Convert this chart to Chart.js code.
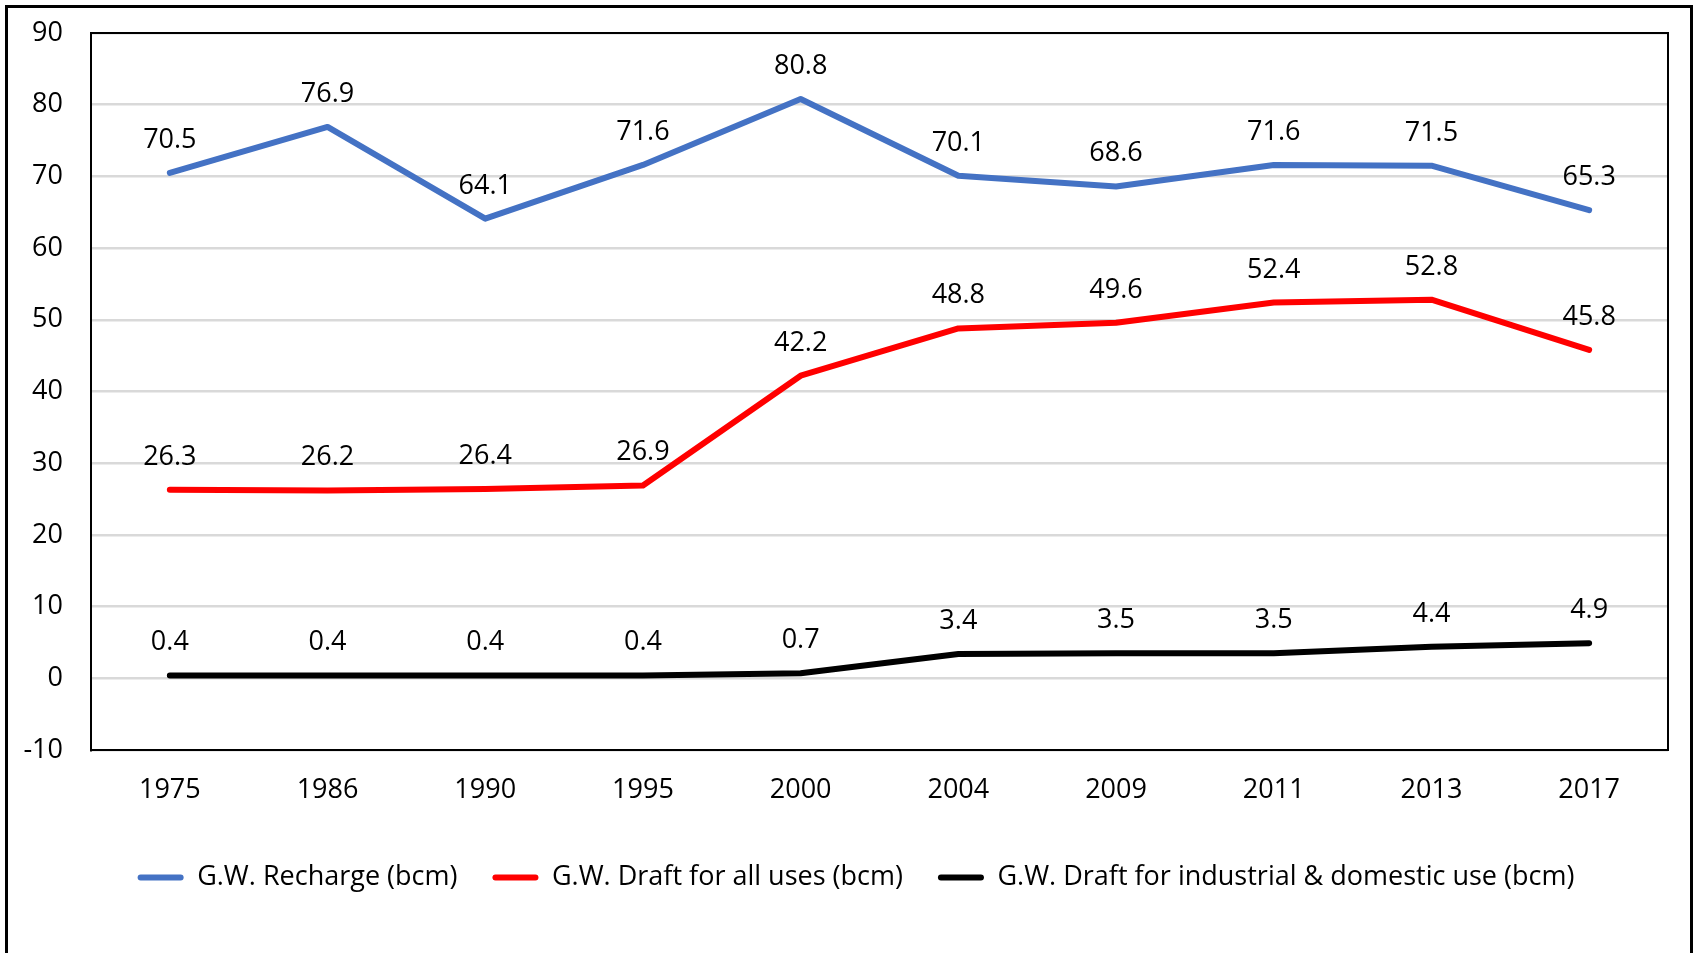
<!DOCTYPE html>
<html>
<head>
<meta charset="utf-8">
<script src="https://cdn.jsdelivr.net/npm/chart.js@4/dist/chart.umd.min.js"></script>
<style>
  html, body { margin: 0; padding: 0; background: #fff; overflow: hidden; width: 1699px; height: 953px; }
  #frame { position: absolute; left: 5px; top: 5px; width: 1682px; height: 1100px; border: 3px solid #000; }
  #c { position: absolute; left: 0; top: 0; }
</style>
</head>
<body>
<div id="frame"></div>
<canvas id="c" width="1699" height="953"></canvas>
<script>
const years = ['1975', '1986', '1990', '1995', '2000', '2004', '2009', '2011', '2013', '2017'];
const recharge = [70.5, 76.9, 64.1, 71.6, 80.8, 70.1, 68.6, 71.6, 71.5, 65.3];
const draftAll = [26.3, 26.2, 26.4, 26.9, 42.2, 48.8, 49.6, 52.4, 52.8, 45.8];
const draftIndDom = [0.4, 0.4, 0.4, 0.4, 0.7, 3.4, 3.5, 3.5, 4.4, 4.9];
const seriesNames = ['G.W. Recharge (bcm)', 'G.W. Draft for all uses (bcm)', 'G.W. Draft for industrial & domestic use (bcm)'];
const yMin = -10, yMax = 90, yStep = 10;

const FONT = '"Open Sans", "Noto Sans", sans-serif';
const FS = 27;

const dataLabels = {
  id: 'dataLabels',
  afterDatasetsDraw(chart) {
    const ctx = chart.ctx;
    ctx.save();
    ctx.font = FS + 'px ' + FONT;
    ctx.fillStyle = '#000';
    ctx.textAlign = 'center';
    ctx.textBaseline = 'alphabetic';
    chart.data.datasets.forEach((ds, i) => {
      const meta = chart.getDatasetMeta(i);
      meta.data.forEach((pt, j) => {
        ctx.fillText(ds.data[j].toFixed(1), pt.x, pt.y - 25);
      });
    });
    ctx.restore();
  }
};

const areaBorder = {
  id: 'areaBorder',
  afterDraw(chart) {
    const a = chart.chartArea;
    const ctx = chart.ctx;
    ctx.save();
    ctx.strokeStyle = '#000';
    ctx.lineWidth = 2;
    ctx.strokeRect(a.left, a.top, a.right - a.left, a.bottom - a.top);
    ctx.restore();
  }
};

function ds(label, data, color) {
  return {
    label, data,
    borderColor: color, backgroundColor: color,
    borderWidth: 6, pointRadius: 0, pointHoverRadius: 0,
    tension: 0, borderCapStyle: 'round', borderJoinStyle: 'round', fill: false
  };
}

new Chart(document.getElementById('c'), {
  type: 'line',
  data: {
    labels: years,
    datasets: [
      ds(seriesNames[0], recharge, '#4472C4'),
      ds(seriesNames[1], draftAll, '#FF0000'),
      ds(seriesNames[2], draftIndDom, '#000000')
    ]
  },
  options: {
    responsive: false,
    devicePixelRatio: 1,
    animation: false,
    layout: { padding: { left: 13, right: 0, top: 33, bottom: 52 } },
    plugins: {
      tooltip: { enabled: false },
      legend: {
        position: 'bottom',
        labels: {
          font: { family: FONT, size: FS },
          color: '#000',
          boxWidth: 46,
          boxHeight: 6,
          padding: 35,
          generateLabels(chart) {
            return chart.data.datasets.map((d, i) => ({
              text: d.label, fillStyle: d.borderColor, strokeStyle: d.borderColor,
              lineWidth: 0, hidden: false, datasetIndex: i, borderRadius: 3,
              fontColor: '#000'
            }));
          }
        }
      }
    },
    scales: {
      x: {
        offset: true,
        grid: { display: false, drawTicks: false },
        border: { display: true, color: '#000', width: 2 },
        ticks: { font: { family: FONT, size: FS }, color: '#000', padding: 24, maxRotation: 0 },
        afterFit(scale) { scale.height = 79; }
      },
      y: {
        min: yMin, max: yMax,
        grid: { color: '#d9d9d9', lineWidth: 2.5, drawTicks: false },
        border: { display: true, color: '#000', width: 2 },
        ticks: { stepSize: yStep, font: { family: FONT, size: FS }, color: '#000', padding: 28 },
        afterFit(scale) { scale.width = 78; scale.paddingTop = 0; scale.paddingBottom = 0; }
      },
      yRight: {
        position: 'right',
        min: yMin, max: yMax,
        grid: { display: false, drawTicks: false },
        border: { display: false },
        ticks: { display: false },
        afterFit(scale) { scale.width = 31; scale.paddingTop = 0; scale.paddingBottom = 0; }
      }
    }
  },
  plugins: [dataLabels, areaBorder]
});
</script>
</body>
</html>
